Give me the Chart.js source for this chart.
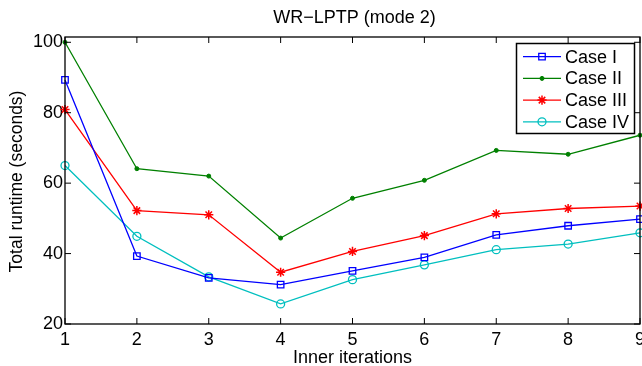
<!DOCTYPE html>
<html>
<head>
<meta charset="utf-8">
<script src="https://cdn.jsdelivr.net/npm/chart.js@4/dist/chart.umd.min.js"></script>
<style>
  html, body { margin: 0; padding: 0; background: #fff; }
  #wrap { width: 642px; height: 366px; position: relative; }
</style>
</head>
<body>
<div id="wrap"><canvas id="c" width="642" height="366"></canvas></div>
<script>
const titleText = "WR\u2212LPTP (mode 2)";
const xTitle = "Inner iterations";
const yTitle = "Total runtime (seconds)";
const iterations = [1, 2, 3, 4, 5, 6, 7, 8, 9];
const yTicks = [20, 40, 60, 80, 100];
const seriesNames = ["Case I", "Case II", "Case III", "Case IV"];
const caseI   = [89.3, 39.3, 33.1, 31.2, 35.1, 38.9, 45.3, 47.9, 49.8];
const caseII  = [100.0, 64.1, 62.0, 44.4, 55.7, 60.8, 69.3, 68.2, 73.6];
const caseIII = [80.9, 52.2, 51.0, 34.7, 40.6, 45.1, 51.3, 52.8, 53.5];
const caseIV  = [65.0, 44.9, 33.4, 25.7, 32.6, 36.8, 41.1, 42.7, 45.9];

const FONT = "'Liberation Sans', Arial, Helvetica, sans-serif";
const FS = 18;

const styles = [
  { color: '#0000ff', pointStyle: 'rect',   radius: 4.6, fill: false, bw: 1.3 },
  { color: '#008000', pointStyle: 'circle', radius: 2.0, fill: true,  bw: 1 },
  { color: '#ff0000', pointStyle: 'star',   radius: 4.6, fill: false, bw: 1.5 },
  { color: '#00bfbf', pointStyle: 'circle', radius: 4.0, fill: false, bw: 1.3 }
];
const seriesData = [caseI, caseII, caseIII, caseIV];

const datasets = seriesData.map((vals, i) => ({
  label: seriesNames[i],
  data: vals.map((v, k) => ({ x: iterations[k], y: v })),
  borderColor: styles[i].color,
  borderWidth: 1.3,
  pointStyle: styles[i].pointStyle,
  pointRadius: styles[i].radius,
  pointHoverRadius: styles[i].radius,
  pointBorderColor: styles[i].color,
  pointBackgroundColor: styles[i].fill ? styles[i].color : 'rgba(0,0,0,0)',
  pointBorderWidth: styles[i].bw,
  tension: 0,
  clip: false
}));

const decor = {
  id: 'decor',
  afterDatasetsDraw(chart) {
    const ctx = chart.ctx;
    const a = chart.chartArea;
    const xs = chart.scales.x, ys = chart.scales.y;
    ctx.save();
    ctx.strokeStyle = '#000';
    ctx.lineWidth = 1.3;
    ctx.strokeRect(a.left, a.top, a.right - a.left, a.bottom - a.top);
    const tl = 6;
    ctx.lineWidth = 1;
    ctx.beginPath();
    iterations.forEach(v => {
      const px = xs.getPixelForValue(v);
      ctx.moveTo(px, a.bottom); ctx.lineTo(px, a.bottom - tl);
      ctx.moveTo(px, a.top); ctx.lineTo(px, a.top + tl);
    });
    yTicks.forEach(v => {
      const py = ys.getPixelForValue(v);
      ctx.moveTo(a.left, py); ctx.lineTo(a.left + tl, py);
      ctx.moveTo(a.right, py); ctx.lineTo(a.right - tl, py);
    });
    ctx.stroke();
    ctx.fillStyle = '#000';
    ctx.font = FS + 'px ' + FONT;
    ctx.textAlign = 'center';
    ctx.textBaseline = 'middle';
    ctx.fillText(titleText, (a.left + a.right) / 2 + 2, 18);
    ctx.fillText(xTitle, (a.left + a.right) / 2, 358);
    ctx.font = '17.5px ' + FONT;
    ctx.translate(17, (a.top + a.bottom) / 2 + 1);
    ctx.rotate(-Math.PI / 2);
    ctx.fillText(yTitle, 0, 0);
    ctx.restore();

    ctx.save();
    const lx = 516.5, ly = 43.5, lw = 118, lh = 90;
    ctx.fillStyle = '#fff';
    ctx.fillRect(lx, ly, lw, lh);
    ctx.strokeStyle = '#000';
    ctx.lineWidth = 1.5;
    ctx.strokeRect(lx, ly, lw, lh);
    ctx.font = FS + 'px ' + FONT;
    ctx.textAlign = 'left';
    ctx.textBaseline = 'middle';
    seriesNames.forEach((name, i) => {
      const y = 56.7 + i * 21.7;
      const st = styles[i];
      ctx.strokeStyle = st.color;
      ctx.lineWidth = 1.3;
      ctx.beginPath();
      ctx.moveTo(523, y); ctx.lineTo(561, y);
      ctx.stroke();
      ctx.fillStyle = st.fill ? st.color : 'rgba(0,0,0,0)';
      ctx.lineWidth = st.bw;
      Chart.helpers.drawPoint(ctx, { pointStyle: st.pointStyle, radius: st.radius, rotation: 0, borderWidth: st.bw }, 542, y);
      ctx.fillStyle = '#000';
      ctx.fillText(name, 565, y + 1);
    });
    ctx.restore();
  }
};

new Chart(document.getElementById('c'), {
  type: 'line',
  data: { datasets },
  options: {
    responsive: false,
    animation: false,
    events: [],
    layout: { autoPadding: false, padding: { top: 37, right: 2, left: 0, bottom: 0 } },
    plugins: { legend: { display: false }, title: { display: false }, tooltip: { enabled: false } },
    scales: {
      x: {
        type: 'linear',
        min: 1, max: 9,
        grid: { display: false, drawTicks: false },
        border: { display: false },
        afterBuildTicks: s => { s.ticks = iterations.map(v => ({ value: v })); },
        afterFit: s => { s.height = 42; s.paddingLeft = 0; s.paddingRight = 0; },
        ticks: { color: '#000', font: { family: FONT, size: FS }, padding: 5, maxRotation: 0, autoSkip: false }
      },
      y: {
        type: 'linear',
        min: 20, max: 101.5,
        grid: { display: false, drawTicks: false },
        border: { display: false },
        afterBuildTicks: s => { s.ticks = yTicks.map(v => ({ value: v })); },
        afterFit: s => { s.width = 65; s.paddingTop = 0; s.paddingBottom = 0; },
        ticks: { color: '#000', font: { family: FONT, size: FS }, padding: 2 }
      }
    }
  },
  plugins: [decor]
});
</script>
</body>
</html>
